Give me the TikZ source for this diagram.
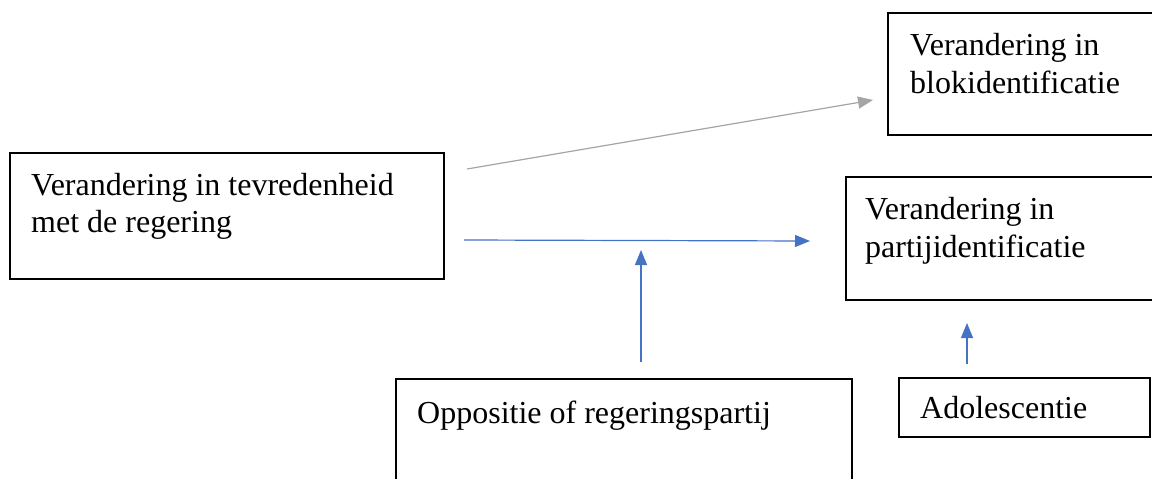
\documentclass[tikz,border=0pt]{standalone}
\usepackage{fontspec}
\setmainfont{Liberation Serif}
\usetikzlibrary{arrows.meta}
\definecolor{arrblue}{HTML}{4472C4}
\definecolor{arrgray}{HTML}{A5A5A5}
\begin{document}
\begin{tikzpicture}[x=1pt,y=-1pt,
  boxline/.style={draw=black,line width=1.4pt},
  lbl/.style={anchor=base west,inner sep=0pt,align=left,font=\fontsize{32}{37.5}\selectfont},
  bluearrow/.style={draw=arrblue,line width=1.2pt,-{Triangle[length=15pt,width=12pt]}},
  grayarrow/.style={draw=arrgray,line width=1.2pt,-{Triangle[length=15pt,width=12pt]}}]
\useasboundingbox (0,0) rectangle (1152,479);
% boxes
\draw[boxline] (10,153) rectangle (444,279);
\draw[boxline] (888,13) rectangle (1165,135);
\draw[boxline] (846,177) rectangle (1165,300);
\draw[boxline] (396,379) rectangle (852,490);
\draw[boxline] (899,378) rectangle (1150,437);
% texts (base anchor = baseline of the last line)
\node[lbl] (ta) at (31,232.5) {Verandering in tevredenheid\\met de regering};
\node[lbl] (tb) at (910,93) {Verandering in\\blokidentificatie};
\node[lbl] (tc) at (865,257) {Verandering in\\partijidentificatie};
\node[lbl] (td) at (417,423) {Oppositie of regeringspartij};
\node[lbl] (te) at (920,418) {Adolescentie};
% connector ends
\coordinate (g1) at (467,169);
\coordinate (g2) at (873,100);
\coordinate (b1) at (464,240);
\coordinate (b2) at (810,241);
\coordinate (u1) at (641,362);
\coordinate (u2) at (641,250);
\coordinate (v1) at (967,364);
\coordinate (v2) at (967,323);
\draw[grayarrow] (g1) -- (g2);
\draw[bluearrow] (b1) -- (b2);
\draw[bluearrow] (u1) -- (u2);
\draw[bluearrow] (v1) -- (v2);
\end{tikzpicture}
\end{document}
